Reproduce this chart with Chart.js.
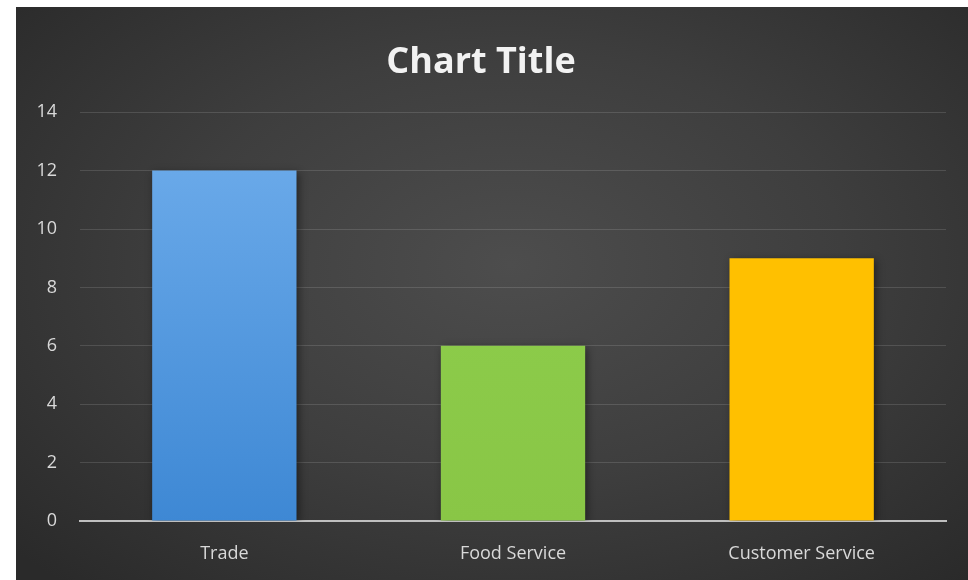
<!DOCTYPE html>
<html>
<head>
<meta charset="utf-8">
<script src="https://cdn.jsdelivr.net/npm/chart.js@4.4.1/dist/chart.umd.min.js"></script>
<style>
  html, body { margin: 0; padding: 0; background: #ffffff; }
  #wrap {
    position: absolute; left: 16px; top: 7px; width: 952px; height: 573px;
    background: radial-gradient(ellipse 70% 75% at 52% 45%, #4d4d4d 0%, #3e3e3e 50%, #2a2a2a 100%);
  }
</style>
</head>
<body>
<div id="wrap"><canvas id="chart" width="952" height="573"></canvas></div>
<script>
var categories = ['Trade', 'Food Service', 'Customer Service'];
var values = [12, 6, 9];
var yTicks = [0, 2, 4, 6, 8, 10, 12, 14];
var barTop = ['#70aeec', '#8fd14e', '#ffc000'];
var barBottom = ['#3e88d4', '#89c646', '#ffc000'];

var barShadow = {
    id: 'barShadow',
    beforeDatasetsDraw: function (chart) {
        var ctx = chart.ctx;
        ctx.save();
        ctx.shadowColor = 'rgba(0,0,0,0.45)';
        ctx.shadowBlur = 8;
        ctx.shadowOffsetX = 2;
        ctx.shadowOffsetY = 2;
    },
    afterDatasetsDraw: function (chart) {
        chart.ctx.restore();
    }
};

var ctx = document.getElementById('chart').getContext('2d');
var chart = new Chart(ctx, {
    type: 'bar',
    data: {
        labels: categories,
        datasets: [{
            data: values,
            backgroundColor: function (c) {
                var area = c.chart.chartArea;
                if (!area) return barBottom[c.dataIndex];
                var g = c.chart.ctx.createLinearGradient(0, area.top, 0, area.bottom);
                g.addColorStop(0, barTop[c.dataIndex]);
                g.addColorStop(1, barBottom[c.dataIndex]);
                return g;
            },
            borderWidth: 0,
            categoryPercentage: 0.5,
            barPercentage: 1
        }]
    },
    plugins: [barShadow],
    options: {
        responsive: false,
        animation: false,
        layout: {
            padding: { left: 0, right: 22, top: 0, bottom: 0 }
        },
        plugins: {
            legend: { display: false },
            tooltip: { enabled: false },
            title: {
                display: true,
                text: 'Chart Title',
                color: '#f2f2f2',
                font: { family: 'Open Sans', size: 36, weight: 'bold' },
                padding: { top: 34, bottom: 28 }
            }
        },
        scales: {
            x: {
                grid: { display: false },
                border: { color: '#bfbfbf', width: 2 },
                afterFit: function (axis) { axis.height = 59; },
                ticks: {
                    color: '#d9d9d9',
                    font: { family: 'Open Sans', size: 18 },
                    padding: 14
                }
            },
            y: {
                min: 0,
                max: 14,
                afterBuildTicks: function (axis) {
                    axis.ticks = yTicks.map(function (v) { return { value: v }; });
                },
                afterFit: function (axis) { axis.width = 64; },
                border: { display: false },
                grid: {
                    color: 'rgba(255,255,255,0.13)',
                    lineWidth: 1,
                    drawTicks: false
                },
                ticks: {
                    color: '#d9d9d9',
                    font: { family: 'Open Sans', size: 18 },
                    padding: 23
                }
            }
        }
    }
});
</script>
</body>
</html>
